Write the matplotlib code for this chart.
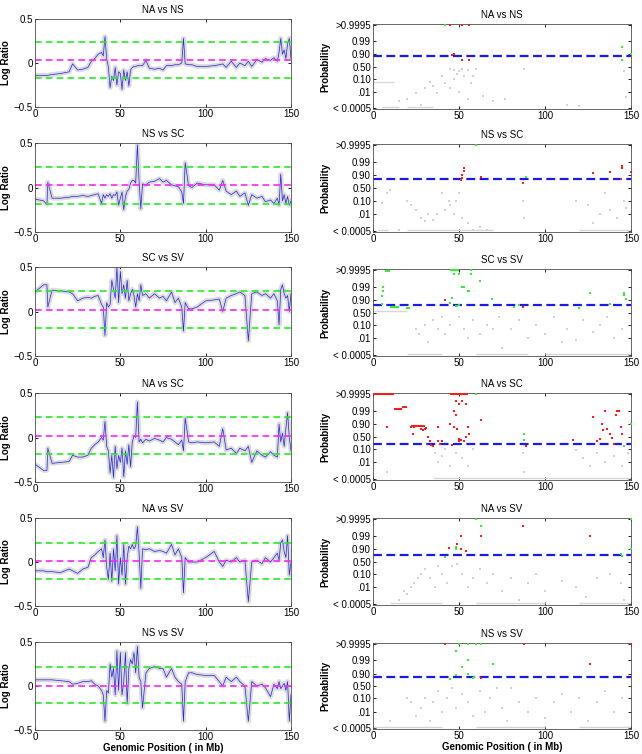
import matplotlib
matplotlib.use('Agg')
import matplotlib.pyplot as plt
import numpy as np

plt.rcParams['font.family'] = ['Liberation Sans', 'DejaVu Sans']
plt.rcParams['font.size'] = 7

# comparisons, top to bottom
titles = ['NA vs NS', 'NS vs SC', 'SC vs SV', 'NA vs SC', 'NA vs SV', 'NS vs SV']

# genomic positions (Mb) shared by all log-ratio profiles
pos = [0, 5, 7, 7.5, 10, 15, 20, 22, 25, 28, 31, 33, 35, 37, 39, 40, 41, 42, 43,
       44, 45, 46, 47, 48, 49, 50, 51, 52, 53, 54, 55, 56, 57, 58, 59, 60, 61,
       62, 63, 65, 67, 70, 73, 75, 77, 80, 82, 84, 86, 87, 88, 90, 92, 95, 100,
       105, 108, 110, 112, 115, 118, 120, 123, 125, 127, 130, 133, 135, 138,
       140, 142, 143, 144, 145, 146, 147, 148, 149, 150]

lr_na_ns = [-0.14, -0.14, -0.14, -0.14, -0.13, -0.12, -0.10, -0.01, -0.08, -0.07,
            -0.05, 0.02, 0.05, 0.10, 0.12, 0.08, 0.30, 0.05, -0.05, -0.28, -0.15,
            -0.20, -0.05, -0.25, -0.10, -0.12, -0.30, -0.08, -0.20, -0.10, -0.26,
            -0.08, -0.05, -0.04, -0.04, -0.03, -0.03, -0.03, -0.03, 0.03, -0.06,
            -0.07, -0.06, -0.08, -0.03, -0.03, -0.02, -0.02, 0.00, 0.28, -0.01,
            -0.02, -0.02, -0.04, -0.04, -0.03, -0.02, -0.01, -0.05, 0.02, -0.05,
            0.00, -0.03, 0.02, -0.04, 0.04, 0.01, 0.05, 0.03, 0.06, 0.02, 0.12,
            0.28, 0.10, 0.15, 0.05, 0.22, 0.28, 0.05]
lr_ns_sc = [-0.13, -0.15, -0.19, 0.06, -0.12, -0.12, -0.11, -0.10, -0.10, -0.09,
            -0.10, -0.09, -0.08, -0.07, -0.18, -0.08, -0.12, -0.08, -0.10, -0.07,
            -0.12, -0.08, -0.09, -0.05, -0.20, -0.12, -0.05, -0.25, -0.10, -0.04,
            -0.02, 0.05, 0.08, 0.08, 0.05, 0.48, 0.06, -0.24, 0.04, 0.03, 0.06,
            0.07, 0.10, 0.06, 0.08, 0.03, 0.02, 0.01, -0.05, -0.18, 0.28, 0.02,
            0.00, 0.05, 0.03, 0.03, -0.03, 0.08, -0.04, -0.08, -0.04, -0.10, -0.06,
            -0.20, -0.08, -0.12, -0.10, -0.16, -0.14, -0.18, -0.12, -0.20, 0.15,
            -0.15, -0.08, -0.18, -0.10, -0.20, -0.15]
lr_sc_sv = [0.22, 0.30, 0.30, 0.05, 0.24, 0.23, 0.22, 0.20, 0.12, 0.15, 0.16, 0.15,
            0.17, 0.18, 0.08, 0.05, -0.27, 0.10, 0.05, 0.08, 0.35, 0.25, 0.15, 0.50,
            0.10, 0.45, 0.20, 0.30, 0.15, 0.35, 0.12, 0.20, 0.25, 0.18, 0.05, 0.20,
            0.12, 0.30, 0.18, 0.20, 0.15, 0.20, 0.15, 0.17, 0.12, 0.22, 0.10, 0.15,
            0.05, -0.22, 0.10, 0.03, 0.03, 0.05, 0.12, 0.13, 0.14, 0.00, 0.15, 0.18,
            0.20, 0.22, 0.18, -0.33, 0.20, 0.22, 0.18, 0.20, 0.15, 0.20, 0.12,
            -0.15, 0.25, 0.30, 0.20, 0.15, 0.18, 0.00, 0.20]
lr_na_sc = [-0.30, -0.37, -0.37, -0.12, -0.29, -0.28, -0.27, -0.20, -0.22, -0.22,
            -0.20, -0.12, -0.08, -0.05, 0.00, -0.03, 0.18, -0.10, -0.15, -0.40,
            -0.20, -0.45, -0.10, -0.35, -0.20, -0.28, -0.12, -0.44, -0.15, -0.30,
            -0.08, -0.33, -0.05, 0.02, 0.00, 0.40, -0.05, -0.02, -0.06, -0.02,
            -0.04, -0.01, -0.03, -0.05, 0.00, -0.02, -0.05, -0.08, -0.03, -0.15,
            0.22, -0.05, -0.06, -0.05, -0.06, -0.05, -0.10, 0.10, -0.14, -0.12,
            -0.18, -0.12, -0.15, -0.10, -0.28, -0.15, -0.20, -0.22, -0.16, -0.20,
            -0.22, 0.15, -0.05, 0.05, -0.10, 0.10, 0.28, 0.00, -0.15]
lr_na_sv = [-0.10, -0.10, -0.11, -0.11, -0.11, -0.12, -0.08, -0.10, -0.13, -0.08,
            -0.06, 0.05, 0.08, 0.12, 0.15, 0.05, 0.25, -0.05, -0.20, 0.10, -0.22,
            0.15, -0.10, 0.30, -0.25, 0.05, -0.15, 0.20, -0.25, 0.05, 0.18, 0.15,
            0.20, 0.15, 0.18, 0.40, 0.10, -0.30, 0.15, 0.14, 0.15, 0.12, 0.13, 0.12,
            0.10, 0.20, 0.08, 0.15, 0.05, -0.35, 0.05, 0.00, 0.00, 0.00, 0.05, 0.12,
            0.00, -0.05, 0.02, 0.00, 0.05, 0.00, 0.02, -0.45, 0.00, 0.02, -0.02,
            0.05, 0.00, 0.05, 0.10, 0.02, 0.22, 0.25, 0.12, 0.05, 0.30, -0.15, 0.00]
lr_ns_sv = [0.07, 0.07, 0.07, 0.07, 0.07, 0.06, 0.05, 0.02, 0.03, 0.05, 0.05, 0.06,
            0.02, 0.00, -0.05, -0.10, -0.40, -0.05, -0.08, 0.25, 0.10, 0.20, -0.10,
            0.40, -0.05, 0.38, -0.10, 0.05, 0.38, -0.20, 0.20, 0.30, 0.25, 0.38,
            0.15, 0.45, 0.10, 0.05, -0.25, 0.15, 0.20, 0.22, 0.20, 0.20, 0.10, 0.20,
            0.10, 0.05, 0.02, -0.40, 0.05, 0.15, 0.15, 0.13, 0.12, 0.12, 0.05, 0.00,
            0.10, 0.05, 0.10, 0.05, 0.00, -0.40, 0.05, 0.00, 0.02, -0.02, -0.12,
            0.02, -0.03, 0.05, -0.03, 0.00, 0.03, -0.05, 0.05, -0.40, -0.10]
log_ratios = [lr_na_ns, lr_ns_sc, lr_sc_sv, lr_na_sc, lr_na_sv, lr_ns_sv]

# threshold lines: centre (magenta), upper / lower (green)
centre = [0.03, 0.025, 0.017, 0.022, 0.013, 0.002]
upper = [0.24, 0.232, 0.225, 0.234, 0.22, 0.213]
lower = [-0.17, -0.183, -0.19, -0.18, -0.19, -0.198]

# probability cut-off (blue dashed)
cutoff = [0.87, 0.82, 0.80, 0.22, 0.76, 0.83]

# probability panels: gray (not called), red, green calls  -> (x, p)
gray_pts = [
    [(45, 0.4), (47, 0.35), (50, 0.3), (52, 0.4), (55, 0.35), (49, 0.2), (53, 0.15),
     (40, 0.15), (35, 0.03), (30, 0.02), (25, 0.008), (20, 0.003), (15, 0.002),
     (28, 0.001), (58, 0.15), (60, 0.4), (88, 0.4), (50, 0.01), (45, 0.02), (42, 0.05),
     (37, 0.008), (55, 0.003), (64, 0.005), (70, 0.002), (77, 0.003), (113, 0.001),
     (120, 0.0008), (146, 0.3), (147, 0.004), (33, 0.06), (47, 0.1), (57, 0.05)],
    [(5, 0.07), (8, 0.3), (10, 0.4), (15, 0.0006), (20, 0.1), (22, 0.05), (25, 0.02),
     (28, 0.005), (30, 0.003), (32, 0.01), (35, 0.004), (37, 0.01), (40, 0.3),
     (42, 0.02), (44, 0.1), (45, 0.05), (47, 0.01), (48, 0.1), (50, 0.3), (52, 0.005),
     (55, 0.002), (58, 0.0006), (62, 0.001), (66, 0.0006), (87, 0.1), (88, 0.005),
     (118, 0.1), (125, 0.05), (128, 0.002), (132, 0.01), (135, 0.3), (138, 0.02),
     (142, 0.005), (146, 0.1), (147, 0.03)],
    [(25, 0.05), (27, 0.02), (30, 0.1), (32, 0.005), (35, 0.2), (38, 0.05), (40, 0.3),
     (42, 0.02), (45, 0.1), (50, 0.3), (53, 0.05), (55, 0.01), (58, 0.2), (62, 0.02),
     (66, 0.1), (70, 0.05), (73, 0.3), (75, 0.002), (80, 0.05), (85, 0.2), (90, 0.01),
     (95, 0.1), (100, 0.02), (105, 0.3), (110, 0.005), (113, 0.05), (118, 0.008),
     (122, 0.2), (128, 0.03), (132, 0.1), (136, 0.3), (140, 0.01), (145, 0.05)],
    [(8, 0.002), (36, 0.05), (38, 0.01), (40, 0.03), (42, 0.1), (45, 0.005),
     (48, 0.05), (52, 0.02), (55, 0.005), (58, 0.1), (87, 0.05), (88, 0.002),
     (118, 0.08), (122, 0.02), (126, 0.005), (130, 0.05), (135, 0.01), (140, 0.03),
     (145, 0.005), (148, 0.05)],
    [(15, 0.001), (18, 0.005), (20, 0.003), (22, 0.01), (24, 0.02), (26, 0.05),
     (28, 0.1), (30, 0.2), (33, 0.05), (36, 0.01), (38, 0.3), (40, 0.1), (43, 0.02),
     (46, 0.3), (49, 0.4), (52, 0.1), (55, 0.01), (58, 0.05), (62, 0.2), (66, 0.02),
     (70, 0.1), (75, 0.005), (80, 0.05), (85, 0.001), (90, 0.02), (95, 0.1),
     (100, 0.005), (110, 0.03), (118, 0.01), (124, 0.002), (130, 0.05), (138, 0.1),
     (144, 0.02), (146, 0.001)],
    [(10, 0.002), (20, 0.1), (22, 0.05), (25, 0.005), (28, 0.02), (30, 0.1),
     (33, 0.002), (35, 0.05), (38, 0.3), (40, 0.01), (43, 0.1), (46, 0.4), (48, 0.02),
     (52, 0.2), (55, 0.05), (58, 0.005), (62, 0.3), (65, 0.01), (68, 0.1), (72, 0.4),
     (75, 0.02), (78, 0.002), (80, 0.4), (85, 0.05), (90, 0.01), (95, 0.1),
     (100, 0.003), (105, 0.05), (110, 0.2), (115, 0.01), (120, 0.1), (125, 0.002),
     (130, 0.05), (135, 0.3), (140, 0.01), (145, 0.1)],
]
# gray horizontal runs (x0, x1, p)
gray_runs = [
    [(0, 12, 0.057), (5, 15, 0.0006), (20, 35, 0.0006)],
    [(3, 9, 0.0006), (20, 40, 0.0006), (40, 70, 0.0006), (120, 150, 0.0006)],
    [(0, 20, 0.58), (20, 40, 0.0006), (60, 90, 0.0006), (100, 150, 0.0006)],
    [(35, 60, 0.0006), (60, 110, 0.0006), (110, 150, 0.0006)],
    [(10, 40, 0.0006), (60, 100, 0.0006), (120, 150, 0.0006)],
    [(0, 40, 0.0006), (60, 100, 0.0006), (120, 150, 0.0006)],
]
red_pts = [
    [(45, 0.9995), (52, 0.9995), (56, 0.9995), (46, 0.89), (47, 0.9), (52, 0.75),
     (56, 0.78)],
    [(51, 0.82), (52, 0.85), (51, 0.80), (53, 0.95), (53, 0.97), (52, 0.9), (63, 0.88),
     (87, 0.72), (128, 0.93), (138, 0.94), (145, 0.98), (145, 0.97), (144, 0.82),
     (150, 0.94)],
    [(42, 0.9), (87, 0.72), (126, 0.97)],
    [(0, 0.92), (8, 0.85), (22, 0.85), (23, 0.6), (24, 0.85), (28, 0.8), (29, 0.75),
     (30, 0.8), (31, 0.82), (32, 0.5), (33, 0.3), (34, 0.18), (35, 0.15), (38, 0.3),
     (38, 0.85), (39, 0.2), (40, 0.3), (48, 0.998), (50, 0.997), (52, 0.998),
     (54, 0.997), (47, 0.99), (48, 0.98), (45, 0.9), (47, 0.85), (49, 0.8), (50, 0.4),
     (51, 0.35), (53, 0.3), (54, 0.5), (55, 0.85), (56, 0.6), (46, 0.17), (50, 0.3),
     (63, 0.95), (89, 0.15), (116, 0.35), (128, 0.97), (130, 0.3), (132, 0.4),
     (133, 0.9), (134, 0.75), (135, 0.99), (136, 0.8), (138, 0.6), (139, 0.45),
     (140, 0.2), (141, 0.98), (142, 0.99), (143, 0.99), (144, 0.85), (145, 0.6)],
    [(44, 0.92), (49, 0.96), (51, 0.99), (51, 0.9), (54, 0.87), (63, 0.99),
     (87, 0.998), (126, 0.99)],
    [(42, 0.9995), (88, 0.9995), (126, 0.98), (150, 0.9995), (63, 0.8)],
]
red_runs = [
    [],
    [],
    [],
    [(0, 12, 0.9995), (12, 17, 0.993), (17, 20, 0.995), (22, 30, 0.87),
     (45, 55, 0.9995)],
    [],
    [],
]
green_pts = [
    [(42, 0.9995), (145, 0.97), (145, 0.78), (150, 0.90)],
    [(60, 0.9995), (89, 0.88)],
    [(5, 0.82), (5, 0.95), (6, 0.98), (6, 0.99), (20, 0.7), (21, 0.7), (47, 0.999),
     (50, 0.999), (52, 0.99), (53, 0.99), (55, 0.98), (56, 0.98), (57, 0.999),
     (57, 0.9995), (62, 0.996), (45, 0.85), (46, 0.93), (48, 0.75), (49, 0.75),
     (50, 0.8), (69, 0.92), (82, 0.72), (85, 0.8), (120, 0.7), (126, 0.97),
     (138, 0.82), (146, 0.96), (147, 0.92), (146, 0.97)],
    [(60, 0.9995), (88, 0.6), (88, 0.35), (146, 0.15), (150, 0.9)],
    [(42, 0.7), (48, 0.9), (48, 0.93), (60, 0.9995), (63, 0.998), (144, 0.8),
     (145, 0.74), (150, 0.9), (150, 0.9995)],
    [(45, 0.78), (48, 0.998), (50, 0.9995), (52, 0.97), (55, 0.9995), (55, 0.99),
     (55, 0.9), (58, 0.82), (59, 0.83), (60, 0.9995), (63, 0.9995), (70, 0.98),
     (48, 0.88)],
]
green_runs = [
    [],
    [],
    [(7, 10, 0.9993), (10, 15, 0.72), (45, 50, 0.9995)],
    [],
    [],
    [],
]

prob_ticks = [0.0005, 0.01, 0.10, 0.50, 0.90, 0.99, 0.9995]
prob_labels = ['< 0.0005', '.01', '0.10', '0.50', '0.90', '0.99', '>0.9995']

W, H = 642, 754
fig = plt.figure(figsize=(W / 100, H / 100), dpi=100)

left_tops = [19, 143, 267, 393, 518, 642]
left_bots = [107, 232, 356, 482, 606, 730]
right_tops = [24, 144, 269, 393, 518, 643]
right_bots = [109, 232, 356, 480, 605, 729]


def style_axes(ax):
    ax.tick_params(direction='in', length=2.5, width=0.6, top=True, right=True,
                   labelsize=7, pad=1.5)
    for s in ax.spines.values():
        s.set_linewidth(0.6)
        s.set_color('0.3')


for i in range(6):
    # log ratio profile
    ax = fig.add_axes([35 / W, 1 - left_bots[i] / H, 256 / W,
                       (left_bots[i] - left_tops[i]) / H])
    ax.plot(pos, log_ratios[i], color='0.86', lw=3.5, solid_joinstyle='round')
    ax.plot(pos, log_ratios[i], color='#2222dd', lw=0.5)
    ax.axhline(upper[i], color='#22ee22', lw=1.2, ls=(0, (4, 2.5)))
    ax.axhline(lower[i], color='#22ee22', lw=1.2, ls=(0, (4, 2.5)))
    ax.axhline(centre[i], color='#ff22ff', lw=1.2, ls=(0, (4, 2.5)))
    ax.set_xlim(0, 150)
    ax.set_ylim(-0.5, 0.5)
    ax.set_xticks([0, 50, 100, 150])
    ax.set_yticks([-0.5, 0, 0.5])
    ax.set_yticklabels(['\u22120.5', '0', '0.5'])
    ax.set_ylabel('Log Ratio', fontweight='bold', labelpad=2)
    ax.set_title(titles[i], fontsize=7, pad=4)
    style_axes(ax)
    if i == 5:
        ax.set_xlabel('Genomic Position ( in Mb)', fontweight='bold', labelpad=1)

    # probability panel
    ax = fig.add_axes([373 / W, 1 - right_bots[i] / H, 258 / W,
                       (right_bots[i] - right_tops[i]) / H])
    ax.set_yscale('logit')
    gx = [p[0] for p in gray_pts[i]]
    gy = [p[1] for p in gray_pts[i]]
    ax.scatter(gx, gy, s=1.5, marker='s', color='0.82', lw=0)
    for x0, x1, p in gray_runs[i]:
        ax.hlines(p, x0, x1, color='0.84', lw=1)
    ax.axhline(cutoff[i], color='#1a1aee', lw=1.6, ls=(0, (4, 2)))
    rx = [p[0] for p in red_pts[i]]
    ry = [p[1] for p in red_pts[i]]
    ax.scatter(rx, ry, s=3, marker='s', color='#ff1a1a', lw=0, zorder=3)
    for x0, x1, p in red_runs[i]:
        ax.hlines(p, x0, x1, color='#ff1a1a', lw=1.5, zorder=3)
    gx = [p[0] for p in green_pts[i]]
    gy = [p[1] for p in green_pts[i]]
    ax.scatter(gx, gy, s=3, marker='s', color='#33ee33', lw=0, zorder=3)
    for x0, x1, p in green_runs[i]:
        ax.hlines(p, x0, x1, color='#33ee33', lw=1.5, zorder=3)
    ax.set_xlim(0, 150)
    ax.set_ylim(0.00045, 0.99955)
    ax.set_xticks([0, 50, 100, 150])
    ax.set_yticks(prob_ticks)
    ax.set_yticklabels(prob_labels)
    ax.yaxis.set_minor_locator(matplotlib.ticker.NullLocator())
    ax.set_ylabel('Probability', fontweight='bold', labelpad=2)
    ax.set_title(titles[i], fontsize=7, pad=4)
    style_axes(ax)
    if i == 5:
        ax.set_xlabel('Genomic Position ( in Mb)', fontweight='bold', labelpad=1)

fig.savefig('out.png', dpi=100)
